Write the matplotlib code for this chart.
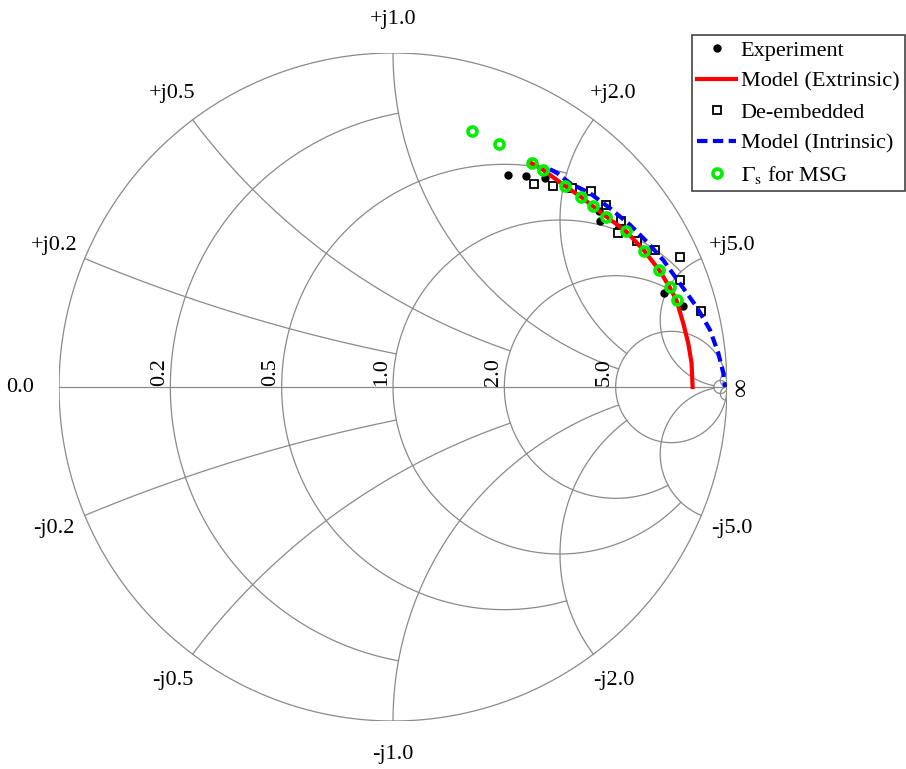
import numpy as np
import matplotlib
matplotlib.use('Agg')
import matplotlib.pyplot as plt

plt.rcParams['font.family'] = ['Liberation Serif', 'DejaVu Serif']
plt.rcParams['mathtext.fontset'] = 'stix'

# reflection coefficient readings (real, imag)
exp_re = [0.344, 0.398, 0.455, 0.617, 0.620, 0.674, 0.811, 0.868]
exp_im = [0.635, 0.632, 0.626, 0.527, 0.497, 0.473, 0.281, 0.243]

ext_re = [0.415, 0.448, 0.515, 0.563, 0.599, 0.639, 0.698, 0.752, 0.797, 0.828, 0.849, 0.869, 0.884, 0.894, 0.897]
ext_im = [0.670, 0.651, 0.602, 0.569, 0.541, 0.510, 0.466, 0.408, 0.350, 0.299, 0.259, 0.191, 0.131, 0.071, 0.0]

deemb_re = [0.422, 0.480, 0.536, 0.593, 0.639, 0.683, 0.675, 0.730, 0.784, 0.859, 0.858, 0.923]
deemb_im = [0.607, 0.603, 0.596, 0.587, 0.544, 0.498, 0.462, 0.437, 0.409, 0.388, 0.320, 0.228]

int_re = [0.470, 0.491, 0.530, 0.590, 0.650, 0.710, 0.760, 0.809, 0.859, 0.909, 0.949, 0.974, 0.989, 0.994]
int_im = [0.652, 0.641, 0.610, 0.580, 0.535, 0.485, 0.435, 0.380, 0.310, 0.240, 0.171, 0.101, 0.041, 0.0]

msg_re = [0.236, 0.317, 0.415, 0.448, 0.515, 0.563, 0.599, 0.639, 0.698, 0.752, 0.797, 0.828, 0.849]
msg_im = [0.766, 0.727, 0.670, 0.651, 0.602, 0.569, 0.541, 0.510, 0.466, 0.408, 0.350, 0.299, 0.259]

# smith grid: value and where each line is cut off
grid_r = [0.2, 0.5, 1.0, 2.0, 5.0, 50.0]
r_xmax = [1.0, 2.0, 5.0, 5.0, np.inf, np.inf]
grid_x = [0.2, 0.5, 1.0, 2.0, 5.0, 50.0]
x_rmax = [1.0, 2.0, 5.0, 5.0, 50.0, np.inf]
r_labels = ['0.2', '0.5', '1.0', '2.0', '5.0']
x_labels = ['0.2', '0.5', '1.0', '2.0', '5.0']

GRID = '#8a8a8a'
GLW = 0.9


def z2g(z):
    return (z - 1) / (z + 1)


fig = plt.figure(figsize=(9.06, 7.69), dpi=100)
ax = fig.add_axes([59 / 906, 48 / 769, 668 / 906, 668 / 769])
ax.set_xlim(-1, 1)
ax.set_ylim(-1, 1)
ax.set_aspect('equal')
ax.axis('off')

# outer circle and real axis
th = np.linspace(0, 2 * np.pi, 1000)
ax.plot(np.cos(th), np.sin(th), color=GRID, lw=GLW)
ax.plot([-1, 1], [0, 0], color=GRID, lw=GLW)

for r, xm in zip(grid_r, r_xmax):
    if np.isinf(xm):
        c, rad = r / (1 + r), 1 / (1 + r)
        ax.plot(c + rad * np.cos(th), rad * np.sin(th), color=GRID, lw=GLW)
    else:
        phi = np.linspace(-np.arctan(xm), np.arctan(xm), 600)
        g = z2g(r + 1j * np.tan(phi))
        ax.plot(g.real, g.imag, color=GRID, lw=GLW)

for x, rm in zip(grid_x, x_rmax):
    top = np.arctan(rm) if np.isfinite(rm) else np.pi / 2 * 0.99995
    phi = np.linspace(0, top, 600)
    for sgn in (1, -1):
        g = z2g(np.tan(phi) + 1j * sgn * x)
        ax.plot(g.real, g.imag, color=GRID, lw=GLW)

# labels
for r, lab in zip(grid_r, r_labels):
    ax.text((r - 1) / (r + 1) - 0.033, 0.004, lab, rotation=90,
            ha='center', va='bottom', fontsize=16)
ax.text(-1.117, 0, '0.0', ha='center', va='center', fontsize=16)
ax.text(1.045, 0, '\u221e', rotation=90, ha='center', va='center', fontsize=19)
for x, lab in zip(grid_x, x_labels):
    for sgn, pre in ((1, '+j'), (-1, '-j')):
        g = z2g(1j * sgn * x) * 1.1
        ax.text(g.real, g.imag, pre + lab, ha='center', va='center', fontsize=16)

# data
h1, = ax.plot(exp_re, exp_im, 'o', color='black', ms=5, ls='none',
              label='Experiment', zorder=3)
h2, = ax.plot(ext_re, ext_im, color='red', lw=3, label='Model (Extrinsic)', zorder=4)
h3, = ax.plot(deemb_re, deemb_im, 's', mfc='white', mec='black', mew=1.3, ms=5.5,
              ls='none', label='De-embedded', zorder=3)
h4, = ax.plot(int_re, int_im, color='blue', lw=3, ls=(0, (2.5, 1.3)),
              label='Model (Intrinsic)', zorder=5)
h5, = ax.plot(msg_re, msg_im, 'o', mfc='none', mec='#00ee00', mew=2.6, ms=6.5,
              ls='none', label=r'$\Gamma_\mathrm{s}$ for MSG', zorder=6)

leg = ax.legend(handles=[h1, h2, h3, h4, h5], loc='upper right',
                bbox_to_anchor=(905 / 906, 734 / 769), bbox_transform=fig.transFigure,
                fancybox=False, edgecolor='#444444', framealpha=1, fontsize=16,
                handlelength=1.75, handletextpad=0.2, labelspacing=0.46,
                borderpad=0.25, borderaxespad=0)
leg.get_frame().set_linewidth(1.2)

fig.savefig('out.png', dpi=100)
